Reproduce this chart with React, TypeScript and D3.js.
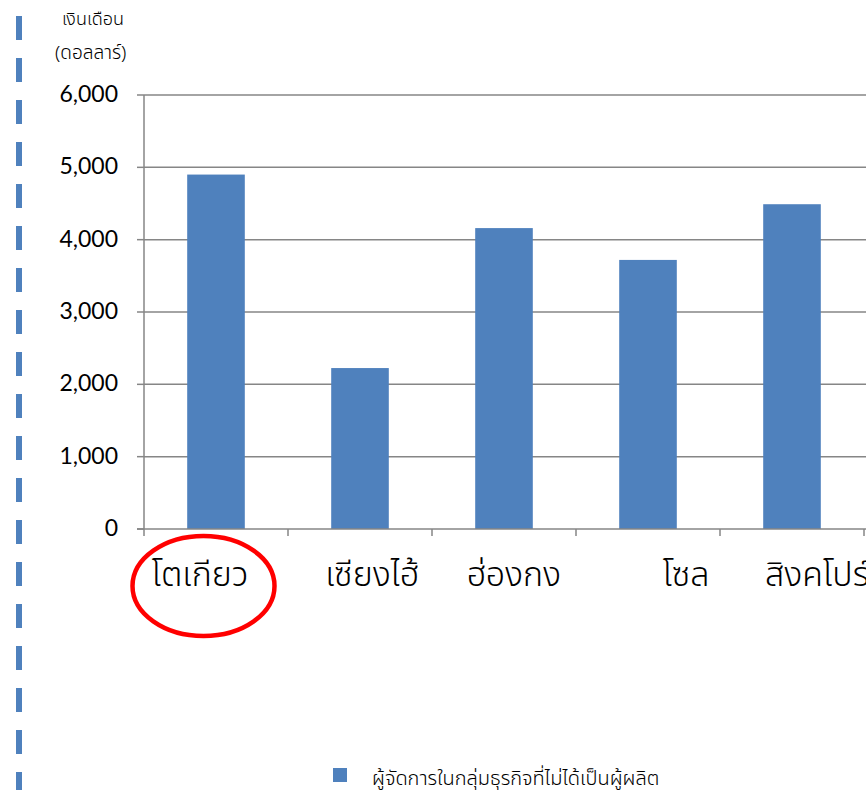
import React from "react";
import * as d3 from "d3";

const cities = ["โตเกียว", "เซียงไฮ้", "ฮ่องกง", "โซล", "สิงคโปร์"];
const salaries = [4900, 2225, 4160, 3720, 4490];
const yTicks = [0, 1000, 2000, 3000, 4000, 5000, 6000];
const labelShift = [-16, 12, 10, 38, 25];
const seriesName = "ผู้จัดการในกลุ่มธุรกิจที่ไม่ได้เป็นผู้ผลิต";
const yTitle1 = "เงินเดือน";
const yTitle2 = "(ดอลลาร์)";

const W = 866;
const H = 790;
const left = 144;
const top = 95;
const bottom = 529;
const BLUE = "#4f81bd";
const GRID = "#868686";
const FONT = "Lato, 'Liberation Sans', sans-serif";
const THAI = "'Noto Sans', 'Noto Sans Thai', 'DejaVu Sans', sans-serif";

export default function App() {
  const x = d3.scaleBand<string>().domain(cities).range([left, left + 144 * 5]).paddingInner(0.6).paddingOuter(0.3);
  const band = d3.scaleBand<string>().domain(cities).range([left, left + 144 * 5]);
  const y = d3.scaleLinear().domain([0, 6000]).range([bottom, top]);
  const dashes = d3.range(16, H, 42);
  return (
    <svg width={W} height={H} style={{ position: "absolute", left: 0, top: 0, background: "#fff" }}>
      {dashes.map((d, i) => (
        <rect key={i} x={16} y={d} width={6} height={24} fill={BLUE} />
      ))}
      <text x={62} y={25} fontFamily={THAI} fontWeight={300} fontSize={18} fill="#000">{yTitle1}</text>
      <text x={55} y={59} fontFamily={THAI} fontWeight={300} fontSize={19} fill="#000">{yTitle2}</text>
      {yTicks.map((t) => (
        <g key={t}>
          {t > 0 && <line x1={left} x2={W} y1={y(t)} y2={y(t)} stroke={GRID} strokeWidth={1.5} />}
          <line x1={137} x2={left} y1={y(t)} y2={y(t)} stroke={GRID} strokeWidth={1.5} />
          <text x={118} y={y(t)} dy="0.3em" textAnchor="end" fontFamily={FONT} fontSize={23} fill="#000">
            {d3.format(",")(t)}
          </text>
        </g>
      ))}
      {cities.map((c, i) => (
        <rect key={c} x={x(c)} y={y(salaries[i])} width={x.bandwidth()} height={bottom - y(salaries[i])} fill={BLUE} />
      ))}
      <line x1={left} x2={left} y1={top} y2={bottom + 7} stroke={GRID} strokeWidth={1.5} />
      <line x1={137} x2={W} y1={bottom} y2={bottom} stroke={GRID} strokeWidth={1.5} />
      {cities.map((c) => (
        <line key={"t" + c} x1={(band(c) as number) + 144} x2={(band(c) as number) + 144} y1={bottom} y2={bottom + 7} stroke={GRID} strokeWidth={1.5} />
      ))}
      {cities.map((c, i) => (
        <text key={"l" + c} x={(band(c) as number) + 72 + labelShift[i]} y={586} textAnchor="middle" fontFamily={THAI} fontWeight={300} fontSize={34} fill="#000">
          {c}
        </text>
      ))}
      <ellipse cx={203.5} cy={586} rx={71} ry={50} fill="none" stroke="#ff0000" strokeWidth={4.5} />
      <rect x={333} y={768} width={14} height={14} fill={BLUE} />
      <text x={372} y={785} fontFamily={THAI} fontWeight={300} fontSize={20} fill="#000">{seriesName}</text>
    </svg>
  );
}
